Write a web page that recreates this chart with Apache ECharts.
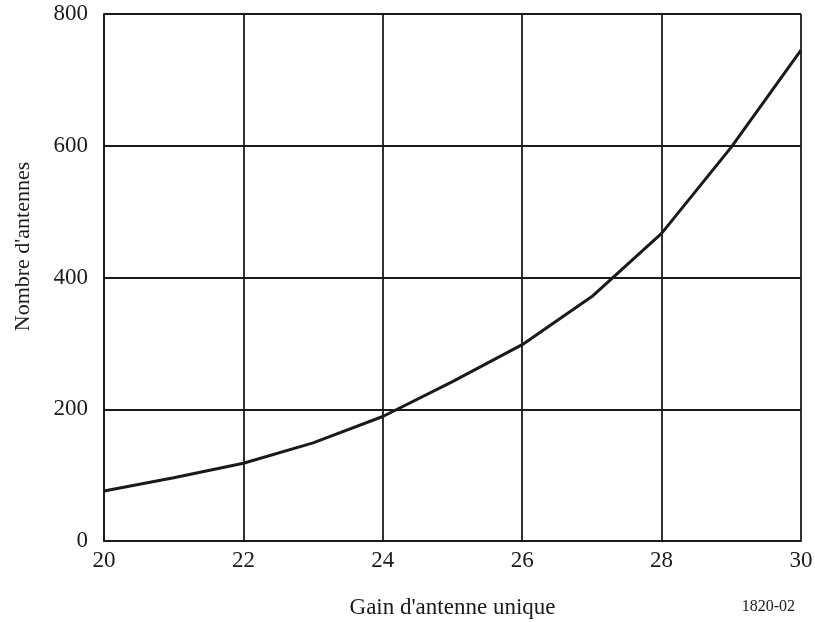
<!DOCTYPE html>
<html>
<head>
<meta charset="utf-8">
<script src="https://cdn.jsdelivr.net/npm/echarts@6/dist/echarts.min.js"></script>
<style>
  html, body { margin: 0; padding: 0; background: #fff; }
  #chart { width: 815px; height: 622px; }
</style>
</head>
<body>
<div id="chart"></div>
<script>
// gain d'antenne unique (abscisse) et nombre d'antennes
var gains = [20, 21, 22, 23, 24, 25, 26, 27, 28, 29, 30];
var antennes = [76, 96, 118, 149, 189, 242, 298, 371, 467, 598, 745];
var xTicks = [20, 22, 24, 26, 28, 30];
var yTicks = [0, 200, 400, 600, 800];

var font = 'Liberation Serif';
var ink = '#1a1a1a';

var myChart = echarts.init(document.getElementById('chart'));
var option = {
  animation: false,
  grid: { left: 104, right: 14, top: 14, bottom: 81, containLabel: false, outerBoundsMode: 'none' },
  xAxis: {
    type: 'value', min: 20, max: 30, interval: 2,
    name: "Gain d'antenne unique", nameLocation: 'middle', nameGap: 55,
    nameTextStyle: { fontFamily: font, fontSize: 23, color: ink },
    axisLine: { show: true, lineStyle: { color: ink, width: 1.8 } },
    axisTick: { show: false },
    axisLabel: { fontFamily: font, fontSize: 23, color: ink, margin: 8,
      formatter: function (v) { return xTicks.indexOf(v) >= 0 ? String(v) : ''; } },
    splitLine: { show: true, lineStyle: { color: ink, width: 1.8 } }
  },
  yAxis: {
    type: 'value', min: 0, max: 800, interval: 200,
    name: "Nombre d'antennes", nameLocation: 'middle', nameGap: 70, nameRotate: 90,
    nameTextStyle: { fontFamily: font, fontSize: 22, color: ink, padding: [0, 0, 0, 62] },
    axisLine: { show: true, lineStyle: { color: ink, width: 1.8 } },
    axisTick: { show: false },
    axisLabel: { fontFamily: font, fontSize: 23, color: ink, margin: 16,
      formatter: function (v) { return yTicks.indexOf(v) >= 0 ? String(v) : ''; } },
    splitLine: { show: true, lineStyle: { color: ink, width: 1.8 } }
  },
  graphic: [
    { type: 'text', right: 20, top: 599,
      style: { text: '1820-02', font: '16px "Liberation Serif"', fill: ink } }
  ],
  series: [{
    type: 'line',
    data: gains.map(function (g, i) { return [g, antennes[i]]; }),
    showSymbol: false,
    lineStyle: { color: ink, width: 3 },
    z: 5
  }]
};
myChart.setOption(option);
</script>
</body>
</html>
